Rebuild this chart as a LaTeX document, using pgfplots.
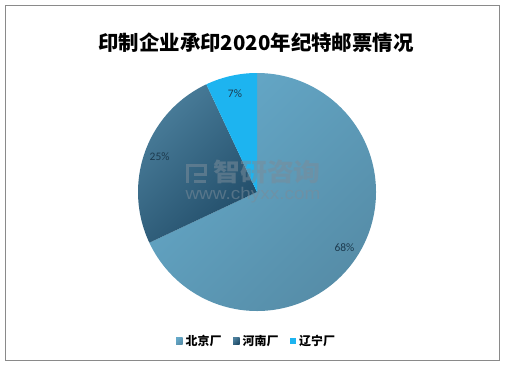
\documentclass[border=0pt]{standalone}
\usepackage{pgfplots}
\pgfplotsset{compat=1.18}
\usepackage{pgfplotstable}
\usepackage{fontspec}
\setmainfont{Carlito}
\newfontfamily\cjk{Noto Sans CJK SC}
\newfontfamily\wsans{Liberation Sans}
\definecolor{bj}{HTML}{5E9EBE}
\definecolor{bjl}{HTML}{65A9C9}
\definecolor{bjd}{HTML}{568DA8}
\definecolor{hn}{HTML}{3F6E8B}
\definecolor{hnl}{HTML}{4C809D}
\definecolor{hnd}{HTML}{214C68}
\definecolor{ln}{HTML}{1DB4F0}
\definecolor{lab}{HTML}{1C3A4E}
\definecolor{wm}{HTML}{7A8C9A}
\definecolor{frame}{HTML}{8A8A8A}

\pgfplotstableread{
idx value
0 68
1 25
2 7
}\piedata

\begin{document}
\begin{tikzpicture}
\pgfplotstablegetelem{0}{value}\of\piedata \edef\va{\pgfplotsretval}
\pgfplotstablegetelem{1}{value}\of\piedata \edef\vb{\pgfplotsretval}
\pgfplotstablegetelem{2}{value}\of\piedata \edef\vc{\pgfplotsretval}
\pgfmathsetmacro\aA{90}
\pgfmathsetmacro\aB{90-3.6*\va}
\pgfmathsetmacro\aC{\aB-3.6*\vb}
\pgfmathsetmacro\aD{\aC-3.6*\vc}
\pgfmathsetmacro\mA{(\aA+\aB)/2}
\pgfmathsetmacro\mB{(\aB+\aC)/2}
\pgfmathsetmacro\mC{(\aC+\aD)/2}
\def\cx{257}\def\cy{173}\def\R{119}
\begin{axis}[at={(0,0)}, anchor=south west, scale only axis, x=1bp, y=1bp,
  xmin=0, xmax=505, ymin=0, ymax=365, hide axis, clip=false]
\coordinate (BL) at (axis cs:0,0);
\coordinate (TR) at (axis cs:505,365);
\draw[frame, line width=1bp] (axis cs:5.5,5) rectangle (axis cs:499.5,359.5);
\node[font=\cjk\bfseries\fontsize{20.5}{24}\selectfont, text=black] at (axis cs:256,322) {印制企业承印2020年纪特邮票情况};
\shade[top color=bjl, bottom color=bjd, shading angle=45] (axis cs:\cx,\cy) -- (axis cs:{\cx+\R*cos(\aA)},{\cy+\R*sin(\aA)}) arc[start angle=\aA, end angle=\aB, radius=\R bp] -- cycle;
\shade[top color=hnl, bottom color=hnd, shading angle=45] (axis cs:\cx,\cy) -- (axis cs:{\cx+\R*cos(\aB)},{\cy+\R*sin(\aB)}) arc[start angle=\aB, end angle=\aC, radius=\R bp] -- cycle;
\fill[ln] (axis cs:\cx,\cy) -- (axis cs:{\cx+\R*cos(\aC)},{\cy+\R*sin(\aC)}) arc[start angle=\aC, end angle=\aD, radius=\R bp] -- cycle;
\node[font=\fontsize{11.5}{13}\selectfont, text=lab] at (axis cs:{\cx+0.87*\R*cos(\mA)},{\cy+0.87*\R*sin(\mA)}) {\va\%};
\node[font=\fontsize{11.5}{13}\selectfont, text=lab] at (axis cs:{\cx+0.87*\R*cos(\mB)},{\cy+0.87*\R*sin(\mB)}) {\vb\%};
\node[font=\fontsize{11.5}{13}\selectfont, text=lab] at (axis cs:{\cx+0.85*\R*cos(\mC)},{\cy+0.85*\R*sin(\mC)}) {\vc\%};
% watermark
\node[font=\cjk\bfseries\fontsize{25}{26}\selectfont, text=wm, opacity=0.55, xscale=1.08] at (axis cs:267,192.5) {智研咨询};
\node[font=\wsans\fontsize{17}{18}\selectfont, text=wm, opacity=0.55, xscale=1.12] at (axis cs:253,170) {www.chyxx.com};
\draw[wm, opacity=0.55, line width=3bp] (axis cs:187,182) -- (axis cs:187,200) -- (axis cs:205,200) -- (axis cs:205,191) -- (axis cs:194,191);
\draw[wm, opacity=0.55, line width=3bp] (axis cs:194,184) -- (axis cs:206,184);
% legend
\shade[top color=bjl, bottom color=bjd, shading angle=45] (axis cs:176,21) rectangle (axis cs:182.5,27.5);
\node[anchor=west, inner sep=0, font=\cjk\bfseries\fontsize{12}{13}\selectfont] at (axis cs:185.5,24) {北京厂};
\shade[top color=hnl, bottom color=hnd, shading angle=45] (axis cs:233,21) rectangle (axis cs:239.5,27.5);
\node[anchor=west, inner sep=0, font=\cjk\bfseries\fontsize{12}{13}\selectfont] at (axis cs:242.5,24) {河南厂};
\fill[ln] (axis cs:289.5,21) rectangle (axis cs:296,27.5);
\node[anchor=west, inner sep=0, font=\cjk\bfseries\fontsize{12}{13}\selectfont] at (axis cs:299,24) {辽宁厂};
\end{axis}
\pgfresetboundingbox
\useasboundingbox (BL) rectangle (TR);
\end{tikzpicture}
\end{document}
